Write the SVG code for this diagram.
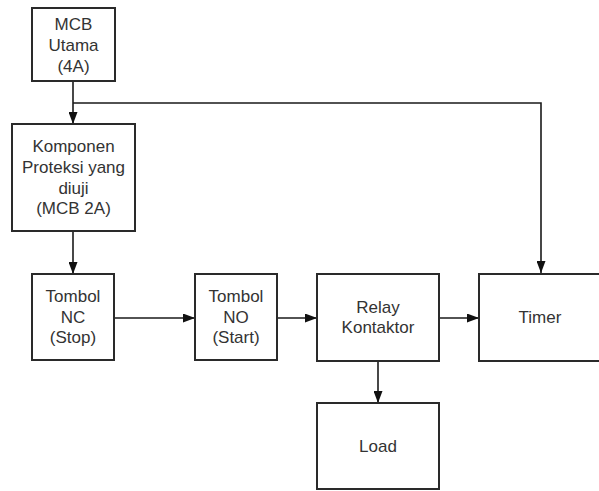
<svg xmlns="http://www.w3.org/2000/svg" width="599" height="491" viewBox="0 0 599 491">
<defs>
<marker id="arr" markerWidth="12" markerHeight="9" refX="12" refY="4.5" orient="auto" markerUnits="userSpaceOnUse">
<path d="M0,0 L12,4.5 L0,9 z" fill="#111"/>
</marker>
<style>
.box{fill:#fff;stroke:#2a2a2a;stroke-width:2}
.t{font-family:"Liberation Sans",Arial,sans-serif;font-size:17px;fill:#333;text-anchor:middle}
.c{fill:none;stroke:#1a1a1a;stroke-width:1.6}
</style>
</defs>
<rect width="599" height="491" fill="#fff"/>
<g id="connectors">
<path class="c" d="M73,81 V124" marker-end="url(#arr)"/>
<path class="c" d="M73,103 H541 V273" marker-end="url(#arr)"/>
<path class="c" d="M73,231 V274" marker-end="url(#arr)"/>
<path class="c" d="M114,318 H195" marker-end="url(#arr)"/>
<path class="c" d="M277,318 H317" marker-end="url(#arr)"/>
<path class="c" d="M439,318 H479" marker-end="url(#arr)"/>
<path class="c" d="M378,361 V403" marker-end="url(#arr)"/>
</g>
<g id="mcb-utama">
<rect class="box" x="32" y="8" width="83" height="73"/>
<text class="t" x="73.5" y="30">MCB</text>
<text class="t" x="73.5" y="51">Utama</text>
<text class="t" x="73.5" y="72">(4A)</text>
</g>
<g id="komponen">
<rect class="box" x="12" y="124" width="123" height="107"/>
<text class="t" x="73.5" y="152">Komponen</text>
<text class="t" x="73.5" y="173">Proteksi yang</text>
<text class="t" x="73.5" y="194">diuji</text>
<text class="t" x="73.5" y="214">(MCB 2A)</text>
</g>
<g id="tombol-nc">
<rect class="box" x="32" y="274" width="82" height="86"/>
<text class="t" x="73" y="302">Tombol</text>
<text class="t" x="73" y="323">NC</text>
<text class="t" x="73" y="343">(Stop)</text>
</g>
<g id="tombol-no">
<rect class="box" x="195" y="274" width="82" height="86"/>
<text class="t" x="236" y="302">Tombol</text>
<text class="t" x="236" y="323">NO</text>
<text class="t" x="236" y="343">(Start)</text>
</g>
<g id="relay">
<rect class="box" x="317" y="274" width="122" height="87"/>
<text class="t" x="378" y="313">Relay</text>
<text class="t" x="378" y="333">Kontaktor</text>
</g>
<g id="timer">
<rect class="box" x="479" y="274" width="122" height="87"/>
<text class="t" x="540" y="323">Timer</text>
</g>
<g id="load">
<rect class="box" x="317" y="403" width="122" height="86"/>
<text class="t" x="378" y="452">Load</text>
</g>
</svg>
